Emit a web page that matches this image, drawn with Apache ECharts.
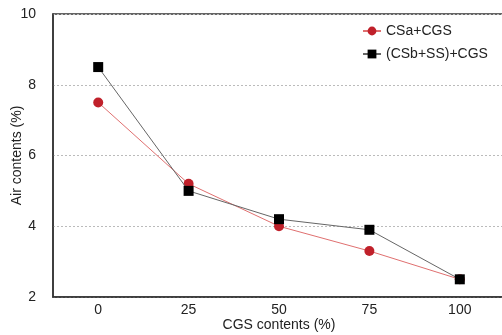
<!DOCTYPE html>
<html><head><meta charset="utf-8">
<script src="https://cdn.jsdelivr.net/npm/echarts@6/dist/echarts.min.js"></script>
<style>html,body{margin:0;padding:0;background:#fff}#c{width:502px;height:335px}</style>
</head><body><div id="c"></div>
<script>
const categories = ['0', '25', '50', '75', '100'];
const seriesNames = ['CSa+CGS', '(CSb+SS)+CGS'];
const csa = [7.5, 5.2, 4.0, 3.3, 2.5];
const csbss = [8.5, 5.0, 4.2, 3.9, 2.5];
const yTicks = [2, 4, 6, 8, 10];

const chart = echarts.init(document.getElementById('c'), null, {renderer: 'canvas'});
const font = 'Liberation Sans';
chart.setOption({
  animation: false,
  backgroundColor: '#fff',
  grid: {left: 53, top: 14, width: 452, height: 283, containLabel: false, outerBoundsMode: 'none',
         show: true, borderColor: '#333', borderWidth: 1.5, backgroundColor: 'transparent'},
  legend: {
    orient: 'vertical', left: 357, top: 19, itemGap: 9, itemWidth: 18, itemHeight: 11,
    textStyle: {fontFamily: font, fontSize: 14, color: '#222'},
    data: seriesNames
  },
  xAxis: {
    type: 'category', data: categories, boundaryGap: true,
    name: 'CGS contents (%)', nameLocation: 'middle', nameGap: 21, nameMoveOverlap: false,
    nameTextStyle: {fontFamily: font, fontSize: 14, color: '#222', verticalAlign: 'top'},
    axisLine: {lineStyle: {color: '#333', width: 1.5}},
    axisTick: {alignWithLabel: true, inside: true, length: 3, lineStyle: {color: '#999'}},
    axisLabel: {fontFamily: font, fontSize: 14, color: '#222', margin: 6},
    splitLine: {show: false}
  },
  yAxis: {
    type: 'value', min: yTicks[0], max: yTicks[yTicks.length - 1], interval: 2,
    name: 'Air contents (%)', nameLocation: 'middle', nameGap: 29, nameMoveOverlap: false,
    nameTextStyle: {fontFamily: font, fontSize: 14, color: '#222'},
    axisLine: {show: true, lineStyle: {color: '#333', width: 1.5}},
    axisTick: {show: false},
    axisLabel: {fontFamily: font, fontSize: 14, color: '#222', margin: 17},
    splitLine: {show: true, lineStyle: {color: '#bbb', type: [2, 2], width: 1}}
  },
  series: [
    {
      name: seriesNames[0], type: 'line', data: csa,
      symbol: 'circle', symbolSize: 10,
      itemStyle: {color: '#c0202a'},
      lineStyle: {color: '#e07070', width: 1},
      z: 3
    },
    {
      name: seriesNames[1], type: 'line', data: csbss,
      symbol: 'rect', symbolSize: 10,
      itemStyle: {color: '#000'},
      lineStyle: {color: '#666', width: 1},
      z: 4
    }
  ]
});
</script></body></html>
